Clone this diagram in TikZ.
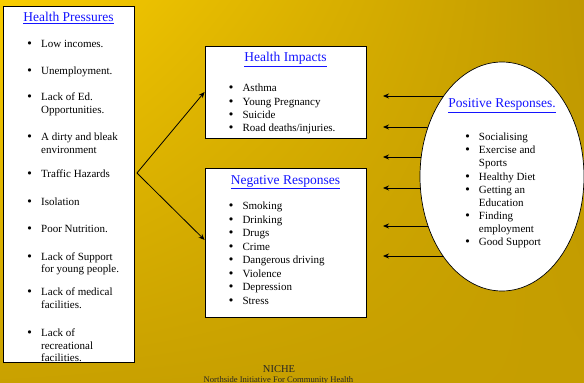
\documentclass[tikz,border=0pt]{standalone}
\usepackage{fontspec}
\setmainfont{Liberation Serif}
\newfontfamily\dotfont{DejaVu Sans}
\usetikzlibrary{arrows.meta,calc,positioning,shapes.geometric,shadings}
\definecolor{goldTL}{RGB}{249,205,0}
\definecolor{goldTR}{RGB}{192,153,0}
\definecolor{goldBL}{RGB}{201,161,0}
\definecolor{goldBR}{RGB}{197,158,0}
\definecolor{headblue}{RGB}{20,20,255}
\newcommand{\bul}[1]{\makebox[3.85pt]{\dotfont\textbullet}\hspace{9.5pt}\begin{tabular}[t]{@{}l@{}}#1\end{tabular}}
\tikzset{
  signal/.style={-{Stealth[length=6pt,width=5pt]}, line width=0.8pt, draw=black},
  panel/.style={draw=black, line width=0.9pt, rectangle, fill=white, inner sep=0pt},
  oval/.style={draw=black, line width=0.7pt, ellipse, fill=white, inner sep=0pt, minimum width=164pt, minimum height=229pt},
  heading/.style={text=headblue, inner sep=0pt, font=\fontsize{13.5}{16}\selectfont},
  point/.style={anchor=base west, inner sep=0pt, font=\fontsize{11}{12.5}\selectfont},
  rpoint/.style={point, font=\fontsize{11}{13.1}\selectfont},
  credit/.style={anchor=base, inner sep=0pt, text=black!85}
}

\begin{document}
\begin{tikzpicture}[x=1pt, y=-1pt]
  \useasboundingbox (0,0) rectangle (584,383);
  \shade[upper left=goldTL, upper right=goldTR, lower left=goldBL, lower right=goldBR] (0,0) rectangle (584,383);

  \node[panel, minimum width=131pt, minimum height=356pt] (press) at (68.5,184) {};
  \node[panel, minimum width=161pt, minimum height=92pt] (impact) at (285.5,92) {};
  \node[panel, minimum width=161pt, minimum height=149pt, below=30pt of impact] (negresp) {};

  \node[heading, below=6.5pt of press.north] (hpress) {\underline{Health Pressures}};
  \node[heading, below=6.5pt of impact.north] (himpact) {\underline{Health Impacts}};
  \node[heading, below=6.5pt of negresp.north] (hneg) {\underline{Negative Responses}};

  % health pressures
  \node[point] (pr1) at (27.6,47.5) {\bul{Low incomes.}};
  \node[point] (pr2) at (27.6,74.5) {\bul{Unemployment.}};
  \node[point] (pr3) at (27.6,100.5) {\bul{Lack of Ed.\\Opportunities.}};
  \node[point] (pr4) at (27.6,140.5) {\bul{A dirty and bleak\\environment}};
  \node[point] (pr5) at (27.6,177.5) {\bul{Traffic Hazards}};
  \node[point] (pr6) at (27.6,205) {\bul{Isolation}};
  \node[point] (pr7) at (27.6,232.5) {\bul{Poor Nutrition.}};
  \node[point] (pr8) at (27.6,260) {\bul{Lack of Support\\for young people.}};
  \node[point] (pr9) at (27.6,295.5) {\bul{Lack of medical\\facilities.}};
  \node[point] (pr10) at (27.6,336.5) {\bul{Lack of\\recreational\\facilities.}};

  % health impacts
  \node[point] (im1) at (229,91.5) {\bul{Asthma}};
  \node[point] (im2) at (229,105) {\bul{Young Pregnancy}};
  \node[point] (im3) at (229,118.5) {\bul{Suicide}};
  \node[point] (im4) at (229,131.7) {\bul{Road deaths/injuries.}};

  % negative responses
  \node[point] (ng1) at (229,209.5) {\bul{Smoking}};
  \node[point] (ng2) at (229,223) {\bul{Drinking}};
  \node[point] (ng3) at (229,236.5) {\bul{Drugs}};
  \node[point] (ng4) at (229,250) {\bul{Crime}};
  \node[point] (ng5) at (229,263.5) {\bul{Dangerous driving}};
  \node[point] (ng6) at (229,277) {\bul{Violence}};
  \node[point] (ng7) at (229,290.5) {\bul{Depression}};
  \node[point] (ng8) at (229,304) {\bul{Stress}};

  \coordinate (fork) at ([xshift=2.5pt, yshift=11pt]press.east);
  \draw[signal] (fork) -- (impact.west);
  \draw[signal] (fork) -- ([yshift=3.5pt]negresp.west);

  % arrows run under the oval
  \coordinate (posc) at (502,176.5);
  \coordinate (t1) at (383,96);
  \coordinate (t2) at (383,127);
  \coordinate (t3) at (383,157);
  \coordinate (t4) at (383,188);
  \coordinate (t5) at (383,226);
  \coordinate (t6) at (383,256);
  \draw[signal] (posc |- t1) -- (t1);
  \draw[signal] (posc |- t2) -- (t2);
  \draw[signal] (posc |- t3) -- (t3);
  \draw[signal] (posc |- t4) -- (t4);
  \draw[signal] (posc |- t5) -- (t5);
  \draw[signal] (posc |- t6) -- (t6);

  \node[oval] (posresp) at (posc) {};
  \node[heading, below=37pt of posresp.north] (hpos) {\underline{Positive Responses.}};
  \node[rpoint] (ps1) at (465.4,140.5) {\bul{Socialising}};
  \node[rpoint] (ps2) at (465.4,153.6) {\bul{Exercise and\\Sports}};
  \node[rpoint] (ps3) at (465.4,180.5) {\bul{Healthy Diet}};
  \node[rpoint] (ps4) at (465.4,193.6) {\bul{Getting an\\Education}};
  \node[rpoint] (ps5) at (465.4,219.7) {\bul{Finding\\employment}};
  \node[rpoint] (ps6) at (465.4,245.8) {\bul{Good Support}};

  \node[credit, font=\fontsize{10.5}{12}\selectfont] (niche) at (279,372.5) {NICHE};
  \node[credit, font=\fontsize{8.6}{10}\selectfont] (nichefull) at (278.5,382) {Northside Initiative For Community Health};
\end{tikzpicture}
\end{document}
